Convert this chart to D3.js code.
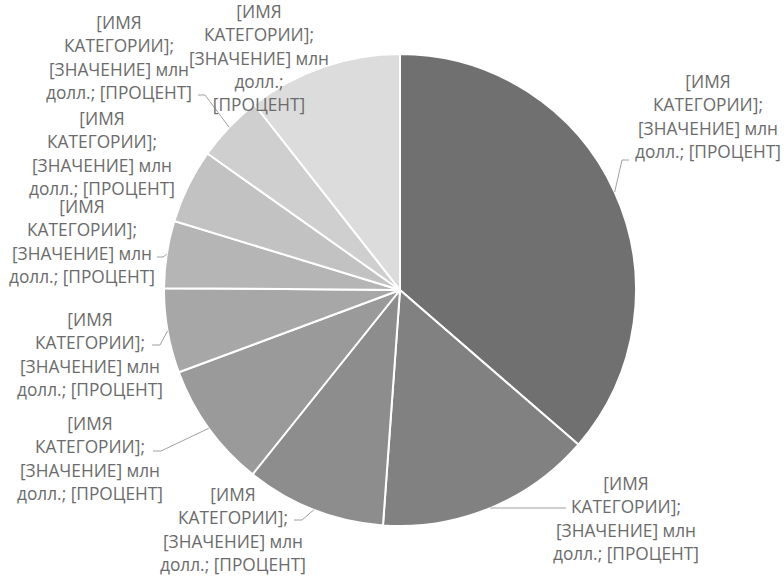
<!DOCTYPE html>
<html>
<head>
<meta charset="utf-8">
<script src="https://cdn.jsdelivr.net/npm/d3@7"></script>
<style>
  body { margin: 0; background: #fff; }
  svg text { font-family: "Open Sans", sans-serif; }
</style>
</head>
<body>
<div id="chart"></div>
<script>
let
    svgWidth = 784,
    svgHeight = 580

// slice shares (млн долл.)
let values = [36.4, 14.8, 9.6, 8.6, 5.8, 4.6, 5.1, 4.6, 10.6]
let categories = ["[ИМЯ КАТЕГОРИИ]", "[ИМЯ КАТЕГОРИИ]", "[ИМЯ КАТЕГОРИИ]", "[ИМЯ КАТЕГОРИИ]",
    "[ИМЯ КАТЕГОРИИ]", "[ИМЯ КАТЕГОРИИ]", "[ИМЯ КАТЕГОРИИ]", "[ИМЯ КАТЕГОРИИ]", "[ИМЯ КАТЕГОРИИ]"]
// wrapped label text
let labelLines = ["[ИМЯ", "КАТЕГОРИИ];", "[ЗНАЧЕНИЕ] млн", "долл.; [ПРОЦЕНТ]"]
let labelLinesNarrow = ["[ИМЯ", "КАТЕГОРИИ];", "[ЗНАЧЕНИЕ] млн", "долл.;", "[ПРОЦЕНТ]"]

let colors = ["#707070", "#808180", "#8d8d8d", "#9a9a9a", "#a7a7a7", "#b5b5b5", "#c2c2c2", "#cfcfcf", "#dcdcdc"]

let cx = 400, cy = 290, radius = 236

// label layout: centre x, first baseline, leader elbow and end
let labelPos = [
    {x: 708, y: 88, elbow: [622, 160], end: [629, 160]},
    {x: 626, y: 490, elbow: [497, 508], end: [566, 508]},
    {x: 233, y: 501, elbow: [302, 520], end: [294, 520]},
    {x: 90, y: 430, elbow: [161, 451], end: [153, 451]},
    {x: 90, y: 326, elbow: [160, 345], end: [152, 345]},
    {x: 82, y: 213, elbow: [163, 257], end: [157, 257]},
    {x: 102, y: 125, elbow: null, end: null},
    {x: 119, y: 29, elbow: [205, 95], end: [198, 95]},
    {x: 259, y: 18, elbow: null, end: null, narrow: true}
]
let lineStep = 23.3

let svg = d3.select("#chart")
    .append("svg")
    .attr("width", svgWidth)
    .attr("height", svgHeight)

let chartGroup = svg.append("g")
    .attr("transform", `translate(${cx}, ${cy})`)

let pie = d3.pie().sort(null).value(d => d)
let arcs = pie(values)

let arc = d3.arc().innerRadius(0).outerRadius(radius)

chartGroup.selectAll("path.slice")
    .data(arcs)
    .enter()
    .append("path")
    .attr("class", "slice")
    .attr("d", arc)
    .attr("fill", (d, i) => colors[i])
    .attr("stroke", "#fff")
    .attr("stroke-width", 2)
    .attr("stroke-linejoin", "round")

// leader lines from the arc edge to the labels
arcs.forEach(function(d, i) {
    let p = labelPos[i]
    if (!p.elbow) return
    let a = (d.startAngle + d.endAngle) / 2
    let x0 = cx + radius * Math.sin(a)
    let y0 = cy - radius * Math.cos(a)
    svg.append("polyline")
        .attr("points", [[x0, y0], p.elbow, p.end].map(q => q.join(",")).join(" "))
        .attr("fill", "none")
        .attr("stroke", "#a0a0a0")
        .attr("stroke-width", 1)
})

// data labels
arcs.forEach(function(d, i) {
    let p = labelPos[i]
    let lines = p.narrow ? labelLinesNarrow : labelLines
    let t = svg.append("text")
        .attr("text-anchor", "middle")
        .attr("fill", "#6b6b6b")
        .attr("font-size", 17.3)
    t.selectAll("tspan")
        .data(lines)
        .enter()
        .append("tspan")
        .attr("x", p.x)
        .attr("y", (s, k) => p.y + k * lineStep)
        .text(s => s)
})
</script>
</body>
</html>
